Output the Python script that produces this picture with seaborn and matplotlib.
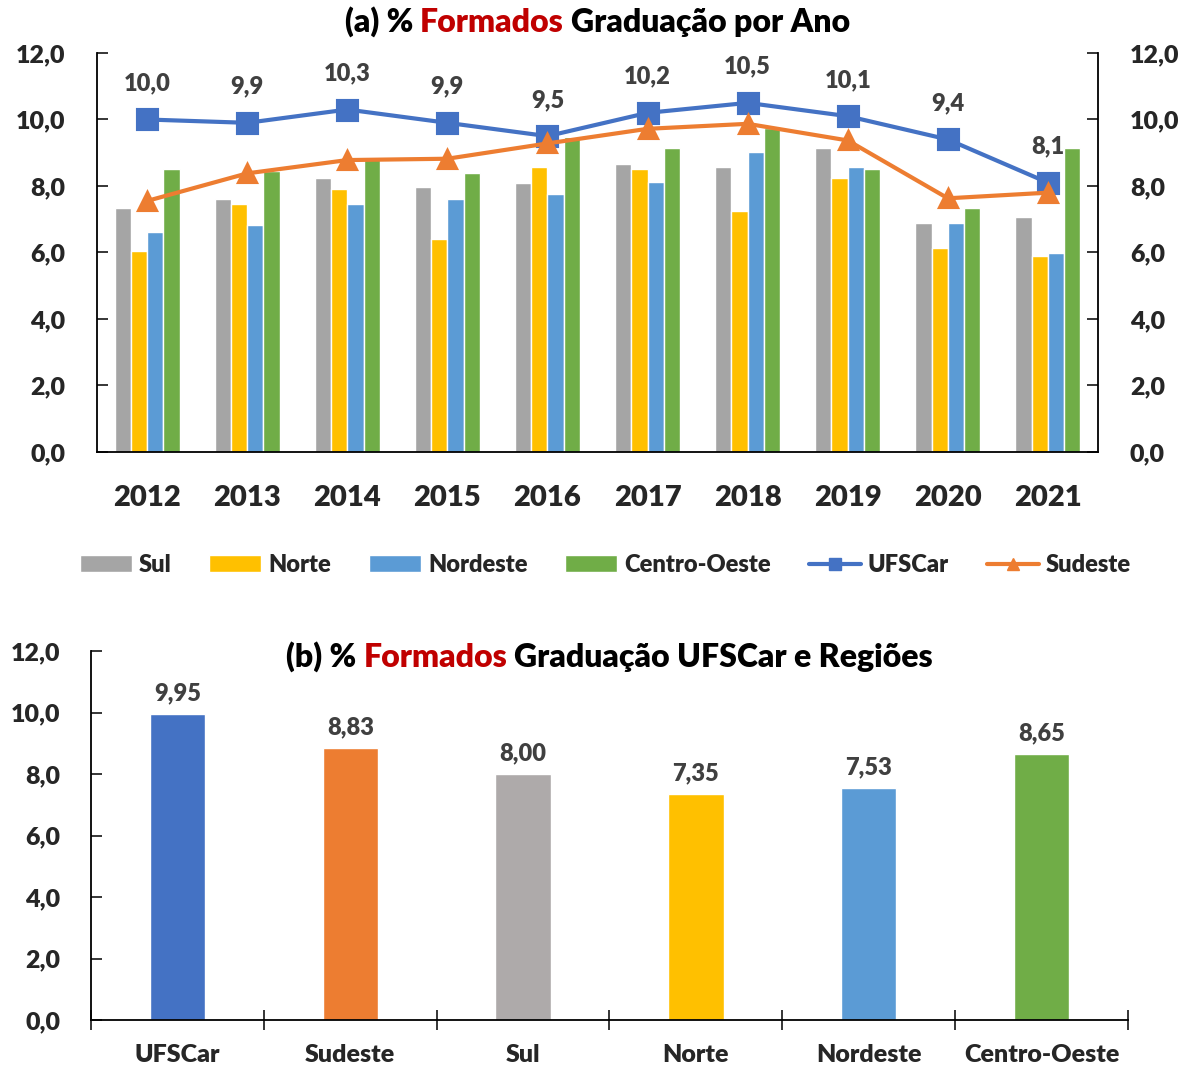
import pandas as pd
from matplotlib import pyplot as plt
from matplotlib.patches import Patch
from matplotlib.lines import Line2D
from matplotlib.ticker import FuncFormatter
import seaborn as sns

sns.set_style("white")
plt.rcParams["font.family"] = ["Lato", "DejaVu Sans"]

anos = ["2012", "2013", "2014", "2015", "2016", "2017", "2018", "2019", "2020", "2021"]
sul = [7.35, 7.61, 8.24, 7.98, 8.08, 8.66, 8.56, 9.14, 6.88, 7.08]
norte = [6.04, 7.46, 7.92, 6.40, 8.56, 8.50, 7.24, 8.24, 6.14, 5.88]
nordeste = [6.61, 6.82, 7.46, 7.61, 7.77, 8.13, 9.02, 8.56, 6.88, 5.98]
centro_oeste = [8.50, 8.45, 8.80, 8.40, 9.48, 9.14, 9.75, 8.50, 7.34, 9.14]
ufscar = [10.0, 9.9, 10.3, 9.9, 9.5, 10.2, 10.5, 10.1, 9.4, 8.1]
sudeste = [7.55, 8.38, 8.78, 8.82, 9.28, 9.72, 9.87, 9.37, 7.63, 7.80]

regioes_b = ["UFSCar", "Sudeste", "Sul", "Norte", "Nordeste", "Centro-Oeste"]
medias_b = [9.95, 8.83, 8.00, 7.35, 7.53, 8.65]

cores = {"Sul": "#A5A5A5", "Norte": "#FFC000", "Nordeste": "#5B9BD5",
         "Centro-Oeste": "#70AD47", "UFSCar": "#4472C4", "Sudeste": "#ED7D31"}
cores_b = ["#4472C4", "#ED7D31", "#AEAAAA", "#FFC000", "#5B9BD5", "#70AD47"]

PESO = "heavy"
virgula = FuncFormatter(lambda v, p: f"{v:.1f}".replace(".", ","))
W, H = 1194, 1068
fig = plt.figure(figsize=(W / 100, H / 100), dpi=100)


def titulo(ax, y, partes, size):
    # titulo com partes em cores diferentes, centrado no eixo
    t0 = ax.text(0.5, y, partes[0][0], color=partes[0][1], fontsize=size,
                 fontweight=PESO, transform=ax.transAxes, ha="left", va="center")
    textos = [t0]
    for s, c in partes[1:]:
        t = ax.annotate(s, xy=(1, 0), xycoords=textos[-1], xytext=(5, 0),
                        textcoords="offset points", color=c, fontsize=size,
                        fontweight=PESO, ha="left", va="bottom")
        textos.append(t)
    fig.canvas.draw()
    x0 = textos[0].get_window_extent().x0
    x1 = textos[-1].get_window_extent().x1
    bb = ax.get_window_extent()
    centro = (bb.x0 + bb.x1) / 2
    desloc = (centro - (x1 - x0) / 2 - x0) / bb.width
    t0.set_x(0.5 + desloc)


# ---------- (a) ----------
ax1 = fig.add_axes([97 / W, 1 - 452 / H, (1098 - 97) / W, (452 - 53) / H])
df = pd.DataFrame({
    "ano": anos * 4,
    "regiao": ["Sul"] * 10 + ["Norte"] * 10 + ["Nordeste"] * 10 + ["Centro-Oeste"] * 10,
    "valor": sul + norte + nordeste + centro_oeste,
})
sns.barplot(data=df, x="ano", y="valor", hue="regiao", palette=cores,
            width=0.65, legend=False, ax=ax1, saturation=1)
sns.pointplot(x=anos, y=ufscar, color=cores["UFSCar"], marker="s", markersize=14,
              linewidth=3, ax=ax1)
sns.pointplot(x=anos, y=sudeste, color=cores["Sudeste"], marker="^", markersize=13,
              linewidth=3, ax=ax1)

for i, v in enumerate(ufscar):
    ax1.annotate(f"{v:.1f}".replace(".", ","), xy=(i, v), xytext=(0, 26),
                 textcoords="offset points", ha="center", va="center",
                 fontsize=17, fontweight=PESO, color="#404040")

ax1.set_ylim(0, 12)
ax1.set_xlim(-0.5, 9.5)
ax1.set_yticks(range(0, 13, 2))
ax1.yaxis.set_major_formatter(virgula)
ax1.set_xlabel("")
ax1.set_ylabel("")
ax1.spines["top"].set_visible(False)
for s in ["left", "right", "bottom"]:
    ax1.spines[s].set_color("#000000")
    ax1.spines[s].set_linewidth(1.3)
ax1.tick_params(axis="y", direction="in", left=True, right=True, labelleft=True,
                labelright=True, length=8, width=1.3, pad=23, labelsize=18)
ax1.tick_params(axis="x", bottom=False, pad=20, labelsize=21)
for lab in ax1.get_yticklabels() + ax1.get_xticklabels():
    lab.set_fontweight(PESO)
titulo(ax1, 1.078, [("(a) %", "black"), ("Formados", "#C00000"),
                    ("Graduação por Ano", "black")], 23)

handles = [Patch(facecolor=cores[r], label=r) for r in ["Sul", "Norte", "Nordeste", "Centro-Oeste"]]
handles += [Line2D([], [], color=cores["UFSCar"], marker="s", markersize=9, lw=3, label="UFSCar"),
            Line2D([], [], color=cores["Sudeste"], marker="^", markersize=9, lw=3, label="Sudeste")]
fig.legend(handles=handles, loc="center", bbox_to_anchor=(0.507, 1 - 565 / H), ncol=6,
           frameon=False, prop={"weight": PESO, "size": 17}, handlelength=2.2,
           handleheight=0.7, handletextpad=0.3, columnspacing=1.6)

# ---------- (b) ----------
ax2 = fig.add_axes([91 / W, 1 - 1020 / H, (1128 - 91) / W, (1020 - 651) / H])
sns.barplot(x=regioes_b, y=medias_b, hue=regioes_b, palette=cores_b, width=0.32,
            legend=False, ax=ax2, saturation=1)
for cont in ax2.containers:
    ax2.bar_label(cont, labels=[f"{b.get_height():.2f}".replace(".", ",") for b in cont],
                  padding=7, fontsize=17, fontweight=PESO, color="#404040")
ax2.set_ylim(0, 12)
ax2.set_xlim(-0.5, 5.5)
ax2.set_yticks(range(0, 13, 2))
ax2.yaxis.set_major_formatter(virgula)
ax2.set_xticks([i - 0.5 for i in range(7)], minor=True)
ax2.spines["top"].set_visible(False)
ax2.spines["right"].set_visible(False)
for s in ["left", "bottom"]:
    ax2.spines[s].set_color("#000000")
    ax2.spines[s].set_linewidth(1.3)
ax2.tick_params(axis="y", direction="in", left=True, length=8, width=1.3, pad=22, labelsize=18)
ax2.tick_params(axis="x", which="major", bottom=False, pad=14, labelsize=18)
ax2.tick_params(axis="x", which="minor", bottom=True, direction="inout", length=14, width=1.3)
for lab in ax2.get_yticklabels() + ax2.get_xticklabels():
    lab.set_fontweight(PESO)
titulo(ax2, 0.985, [("(b) %", "black"), ("Formados", "#C00000"),
                    ("Graduação UFSCar e Regiões", "black")], 23)

fig.savefig("out.png", dpi=100, facecolor="white")
